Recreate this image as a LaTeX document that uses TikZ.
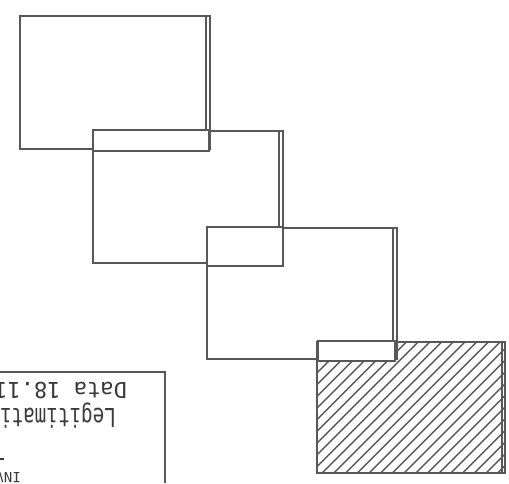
\documentclass[tikz,border=0pt]{standalone}
\usepackage{fontspec}
\newfontfamily\cardfont{DejaVu Sans Mono}
\definecolor{ink}{HTML}{585858}
\definecolor{textink}{HTML}{3A3A3A}
\begin{document}
\begin{tikzpicture}[x=1pt,y=-1pt,
  frame/.style={draw=none, inner sep=0pt, outer sep=0pt, rectangle},
  heavy/.style={draw=ink, line width=2.8pt, line cap=rect},
  thinedge/.style={draw=ink, line width=1.1pt},
  tab/.style={draw=ink, line width=1.2pt, fill=white, inner sep=0pt, outer sep=0pt, rectangle},
  hatch/.style={draw=ink, line width=1.4pt},
  card/.style={draw=ink, line width=1.8pt},
  cardtext/.style={rotate=180, anchor=base west, inner sep=0pt, text=textink}]
\useasboundingbox (0,0) rectangle (509,483);
\clip (0,0) rectangle (509,483);

% main boxes
\node[frame, minimum width=190pt, minimum height=133pt] (b1) at (115,82.5) {};
\node[frame, minimum width=190pt, minimum height=132pt] (b2) at (188,197) {};
\node[frame, minimum width=190pt, minimum height=131pt] (b3) at (302,293.5) {};
\node[frame, minimum width=188pt, minimum height=131pt] (b4) at (411,407.5) {};

% hatching of the last box
\begin{scope}
  \clip (b4.north west) rectangle (b4.south east);
  \foreach \k in {-7,...,23} {
    \draw[hatch] ({252+\k*11.7},473) -- ++(160,-160);
  }
\end{scope}

\foreach \b/\d in {b1/4,b2/4,b3/4,b4/3} {
  \draw[heavy] (\b.north east) -- (\b.north west) -- (\b.south west) -- (\b.south east);
  \draw[thinedge] (\b.north east) -- (\b.south east);
  \draw[thinedge] ([xshift=-\d pt]\b.north east) -- ([xshift=-\d pt]\b.south east);
}

% tabs over the overlaps
\node[tab, minimum width=116pt, minimum height=21pt] (t1) at (151,140.5) {};
\node[tab, minimum width=76pt, minimum height=39pt] (t2) at (245,246.5) {};
\node[tab, minimum width=77pt, minimum height=20pt] (t3) at (356.5,351) {};

% the upside-down card
\coordinate (c1) at (0,372);
\coordinate (c2) at (165,372);
\coordinate (c3) at (165,483);
\draw[card] (c1) -- (c2) -- (c3);
\node[cardtext, font=\cardfont\fontsize{22}{22}\selectfont] (date) at (127,382) {Data 18.11.};
\node[cardtext, font=\cardfont\fontsize{26}{26}\selectfont, xscale=0.74] (legit) at (116,408) {Legitimation};
\coordinate (d1) at (0,459);
\coordinate (d2) at (3.5,459);
\draw[textink, line width=1.3pt] (d1) -- (d2);
\node[cardtext, font=\cardfont\fontsize{14}{14}\selectfont] (last) at (21,472) {INV};
\end{tikzpicture}
\end{document}
